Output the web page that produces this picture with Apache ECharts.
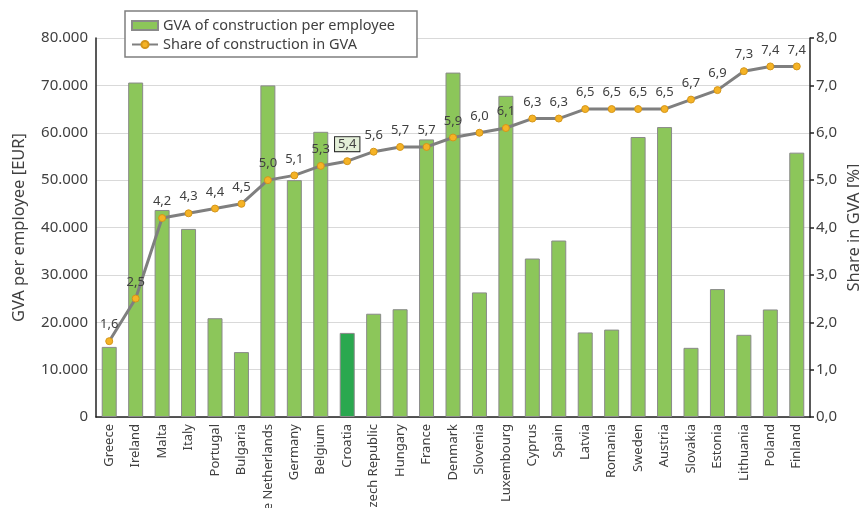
<!DOCTYPE html>
<html><head><meta charset="utf-8">
<script src="https://cdn.jsdelivr.net/npm/echarts@6/dist/echarts.min.js"></script>
<style>html,body{margin:0;padding:0;background:#fff}#c{width:859px;height:508px}</style>
</head><body><div id="c"></div>
<script>
var countries = ['Greece','Ireland','Malta','Italy','Portugal','Bulgaria','The Netherlands','Germany','Belgium','Croatia','Czech Republic','Hungary','France','Denmark','Slovenia','Luxembourg','Cyprus','Spain','Latvia','Romania','Sweden','Austria','Slovakia','Estonia','Lithuania','Poland','Finland'];
var gvaPerEmployee = [14800,70600,43700,39700,20850,13700,70000,50000,60200,17750,21800,22750,58600,72700,26300,67800,33450,37250,17850,18450,59100,61200,14600,27000,17350,22700,55800];
var shareInGVA = [1.6,2.5,4.2,4.3,4.4,4.5,5.0,5.1,5.3,5.4,5.6,5.7,5.7,5.9,6.0,6.1,6.3,6.3,6.5,6.5,6.5,6.5,6.7,6.9,7.3,7.4,7.4];
var leftTicks = [0,10000,20000,30000,40000,50000,60000,70000,80000];
var rightTicks = [0,1,2,3,4,5,6,7,8];
var highlight = 'Croatia';

var FONT = '"Noto Sans", "Open Sans", sans-serif';
var TXT = '#404040';
var chart = echarts.init(document.getElementById('c'));

function fmtThousands(v){ return String(Math.round(v)).replace(/\B(?=(\d{3})+(?!\d))/g,'.'); }
function fmtComma(v){ return v.toFixed(1).replace('.',','); }

var barData = gvaPerEmployee.map(function(v,i){
  return countries[i]===highlight ? {value:v, itemStyle:{color:'#2aa84f'}} : v;
});
var lineData = shareInGVA.map(function(v,i){
  return countries[i]===highlight ? {value:v, label:{backgroundColor:'#e3efd8', borderColor:'#222', borderWidth:1, padding:[1,3,0,3]}} : v;
});

chart.setOption({
  animation:false,
  textStyle:{fontFamily:FONT},
  grid:{left:96, right:49, top:38, bottom:91, outerBoundsMode:'none', containLabel:false},
  legend:{
    orient:'vertical', left:125, top:11,
    padding:[7,22,5,6], itemGap:4, itemWidth:26, itemHeight:9,
    borderColor:'#7f7f7f', borderWidth:1.5, backgroundColor:'#fff',
    textStyle:{fontSize:14.5, color:TXT, fontFamily:FONT},
    data:[{name:'GVA of construction per employee', icon:'rect'},{name:'Share of construction in GVA'}]
  },
  xAxis:{
    type:'category', data:countries,
    axisLine:{lineStyle:{color:'#222', width:1.5}},
    axisTick:{show:false},
    axisLabel:{rotate:90, interval:0, fontSize:13, color:TXT, fontFamily:FONT, margin:7}
  },
  yAxis:[{
    type:'value', min:0, max:80000, interval:10000,
    name:'GVA per employee [EUR]', nameLocation:'middle', nameGap:68, nameRotate:90, nameMoveOverlap:false,
    nameTextStyle:{fontSize:16.5, color:TXT, fontFamily:FONT},
    axisLine:{show:true, lineStyle:{color:'#222', width:1.5}},
    axisTick:{show:false},
    axisLabel:{fontSize:15, color:TXT, fontFamily:FONT, margin:8, formatter:function(v){return fmtThousands(v);}},
    splitLine:{lineStyle:{color:'#d9d9d9', width:1}}
  },{
    type:'value', min:0, max:8, interval:1, position:'right',
    name:'Share in GVA [%]', nameLocation:'middle', nameGap:36, nameRotate:90, nameMoveOverlap:false,
    nameTextStyle:{fontSize:16.5, color:TXT, fontFamily:FONT},
    axisLine:{show:true, lineStyle:{color:'#222', width:1.5}},
    axisTick:{show:true, length:4, lineStyle:{color:'#222', width:1.5}},
    axisLabel:{fontSize:15, color:TXT, fontFamily:FONT, margin:6, formatter:function(v){return fmtComma(v);}},
    splitLine:{show:false}
  }],
  series:[{
    name:'GVA of construction per employee', type:'bar', yAxisIndex:0,
    data:barData, barWidth:15,
    itemStyle:{color:'#8cc65a', borderColor:'#8a8a8a', borderWidth:1}
  },{
    name:'Share of construction in GVA', type:'line', yAxisIndex:1,
    data:lineData, symbol:'circle', symbolSize:7,
    lineStyle:{color:'#7f7f7f', width:3},
    itemStyle:{color:'#f5b325', borderColor:'#d4951a', borderWidth:1},
    label:{show:true, position:'top', distance:6, fontSize:13, color:TXT, fontFamily:FONT, formatter:function(p){return fmtComma(p.value);}},
    z:5
  }]
});
</script>
</body></html>
